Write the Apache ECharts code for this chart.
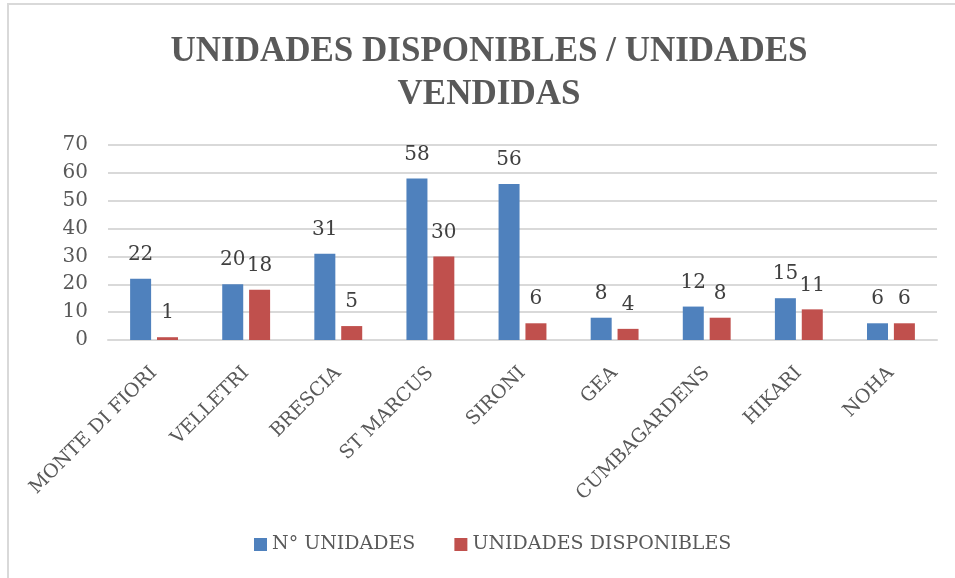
<!DOCTYPE html>
<html>
<head>
<meta charset="utf-8">
<script src="https://cdn.jsdelivr.net/npm/echarts@6/dist/echarts.min.js"></script>
<style>
  html, body { margin: 0; padding: 0; background: #fff; }
  #chart { width: 955px; height: 578px; }
</style>
</head>
<body>
<div id="chart"></div>
<script>
// datos
const categorias = ['MONTE DI FIORI', 'VELLETRI', 'BRESCIA', 'ST MARCUS', 'SIRONI', 'GEA', 'CUMBAGARDENS', 'HIKARI', 'NOHA'];
const unidades = [22, 20, 31, 58, 56, 8, 12, 15, 6];
const disponibles = [1, 18, 5, 30, 6, 4, 8, 11, 6];
const serieNombres = ['N° UNIDADES', 'UNIDADES DISPONIBLES'];

const fuente = 'DejaVu Serif, Liberation Serif, serif';
const fuenteTitulo = 'Liberation Serif, serif';

const chart = echarts.init(document.getElementById('chart'));

const etiqueta = {
  show: true,
  position: 'top',
  distance: 14,
  color: '#404040',
  fontFamily: fuente,
  fontSize: 20
};

const option = {
  animation: false,
  backgroundColor: '#fff',
  color: ['#4F81BD', '#C0504D'],
  title: {
    text: 'UNIDADES DISPONIBLES / UNIDADES\nVENDIDAS',
    left: 484,
    top: 25,
    textAlign: 'center',
    textStyle: {
      color: '#595959',
      fontFamily: fuenteTitulo,
      fontWeight: 'bold',
      fontSize: 35,
      lineHeight: 43
    }
  },
  // borde gris del recuadro
  graphic: [{
    type: 'rect',
    shape: { x: 8, y: 4, width: 1200, height: 1200 },
    style: { fill: 'none', stroke: '#d9d9d9', lineWidth: 2 },
    silent: true
  }],
  legend: {
    data: serieNombres,
    left: 249,
    top: 530,
    itemWidth: 13,
    itemHeight: 13,
    itemGap: 39,
    icon: 'rect',
    textStyle: { color: '#595959', fontFamily: fuente, fontSize: 19 }
  },
  grid: {
    left: 108,
    right: 18,
    top: 145,
    bottom: 238,
    containLabel: false
  },
  xAxis: {
    type: 'category',
    data: categorias,
    axisLine: { lineStyle: { color: '#d9d9d9', width: 2 } },
    axisTick: { show: false },
    axisLabel: {
      interval: 0,
      rotate: 45,
      margin: 30,
      color: '#595959',
      fontFamily: fuente,
      fontSize: 19
    }
  },
  yAxis: {
    type: 'value',
    min: 0,
    max: 70,
    interval: 10,
    axisLine: { show: false },
    axisTick: { show: false },
    splitLine: { lineStyle: { color: '#d9d9d9', width: 2 } },
    axisLabel: {
      margin: 20,
      color: '#595959',
      fontFamily: fuente,
      fontSize: 20
    }
  },
  series: [
    {
      name: serieNombres[0],
      type: 'bar',
      data: unidades,
      barWidth: 21,
      barGap: '28%',
      label: etiqueta
    },
    {
      name: serieNombres[1],
      type: 'bar',
      data: disponibles,
      barWidth: 21,
      label: etiqueta
    }
  ]
};

chart.setOption(option);
</script>
</body>
</html>
